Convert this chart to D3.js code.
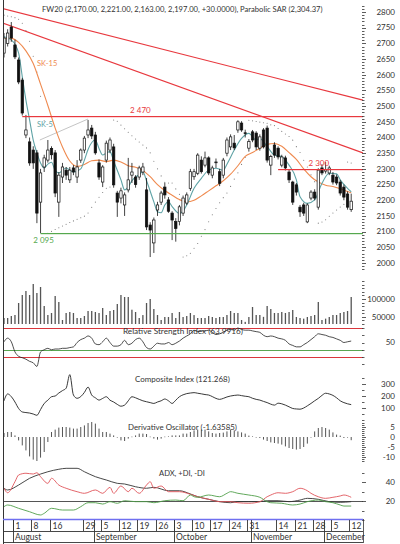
<!DOCTYPE html>
<html><head><meta charset="utf-8">
<script src="https://cdn.jsdelivr.net/npm/d3@7"></script>
<style>body{margin:0;background:#fff}svg{display:block}text{font-family:Lato,"Open Sans",sans-serif}</style>
</head><body><svg id="c" width="400" height="544"></svg>
<script>
// ---------- DATA ----------
const openP  = [2669,2700,2752,2695,2647,2583,2408,2386,2360,2351,2194,2306,2328,2365,2351,2194,2274,2296,2265,2303,2274,2328,2360,2408,2430,2408,2319,2258,2328,2360,2370,2223,2207,2185,2233,2280,2274,2274,2290,2233,2121,2064,2169,2194,2242,2201,2159,2132,2132,2159,2191,2238,2275,2286,2328,2312,2335,2280,2320,2291,2280,2350,2370,2382,2424,2446,2415,2366,2418,2414,2366,2424,2430,2312,2376,2366,2312,2335,2290,2258,2249,2178,2185,2131,2207,2226,2178,2303,2293,2287,2280,2274,2258,2242,2220,2170];
const highP  = [2733,2745,2768,2712,2655,2590,2472,2400,2372,2360,2300,2345,2392,2372,2360,2290,2319,2306,2306,2312,2328,2365,2405,2456,2440,2418,2330,2312,2390,2400,2380,2230,2240,2225,2335,2319,2280,2310,2319,2271,2130,2145,2195,2230,2255,2210,2165,2143,2185,2215,2225,2300,2300,2350,2340,2355,2340,2310,2333,2300,2335,2400,2410,2408,2455,2452,2425,2395,2424,2420,2410,2430,2438,2345,2385,2372,2345,2342,2298,2262,2255,2185,2192,2190,2232,2235,2302,2315,2322,2310,2290,2282,2265,2250,2228,2221];
const lowP   = [2655,2690,2705,2650,2570,2470,2398,2310,2300,2127,2095,2290,2320,2330,2210,2147,2255,2265,2255,2280,2255,2319,2350,2398,2395,2345,2265,2242,2320,2350,2240,2147,2190,2150,2225,2255,2240,2265,2280,2105,2019,2032,2150,2185,2205,2160,2073,2068,2120,2150,2185,2230,2265,2280,2285,2305,2280,2270,2303,2245,2270,2340,2360,2360,2415,2418,2400,2355,2385,2360,2358,2365,2320,2280,2335,2330,2305,2295,2255,2185,2215,2147,2150,2127,2200,2200,2170,2280,2285,2280,2250,2248,2215,2200,2170,2163];
const closeP = [2717,2733,2717,2657,2577,2478,2424,2319,2319,2159,2287,2335,2360,2345,2223,2280,2306,2280,2296,2290,2306,2360,2398,2424,2405,2351,2274,2306,2382,2392,2249,2194,2230,2217,2265,2290,2250,2303,2306,2115,2105,2137,2185,2223,2217,2165,2137,2110,2179,2207,2217,2291,2291,2344,2291,2335,2287,2303,2322,2254,2328,2392,2402,2367,2450,2424,2413,2387,2392,2370,2402,2370,2328,2339,2344,2338,2338,2303,2265,2194,2226,2163,2159,2185,2226,2207,2296,2287,2298,2303,2258,2255,2223,2210,2178,2197];
const volume = [46800,46800,52400,55200,88800,111200,122400,111200,142000,116800,133600,80400,55200,60800,108400,91600,41200,60800,63600,60800,46800,46800,52400,66400,66400,63600,60800,74800,55200,66400,69200,86000,111200,105600,105600,70000,63600,46800,55000,88800,100000,72000,55200,41200,49600,49600,60800,46800,63600,49600,52400,60800,55000,46800,46800,46800,52400,49600,46800,49600,49600,55200,66400,60800,60800,41200,36000,49600,77600,55200,55200,50000,80400,72000,60800,60800,63600,60800,63600,69200,49600,46800,45000,49600,52400,55200,91600,41200,45000,49600,55200,55200,60800,63600,66400,105600];
// moving averages: [day index, value]
const sk15 = [[0,2716],[2,2716],[4,2703],[6,2676],[8,2636],[10,2570],[12,2502],[14,2430],[16,2370],[18,2325],[20,2308],[22,2314],[24,2326],[26,2328],[28,2323],[30,2328],[32,2322],[34,2310],[36,2305],[38,2295],[40,2275],[42,2250],[44,2231],[46,2216],[48,2202],[50,2195],[52,2200],[54,2214],[56,2230],[58,2246],[60,2262],[62,2283],[64,2310],[66,2340],[68,2352],[70,2366],[72,2378],[74,2381],[76,2372],[78,2352],[80,2330],[82,2300],[84,2275],[86,2258],[88,2248],[90,2244],[92,2237],[94,2228],[95,2224]];
const sk5 = [[0,2721],[2,2711],[4,2669],[5,2594],[6,2519],[7,2456],[8,2392],[9,2351],[10,2319],[11,2303],[12,2315],[13,2321],[14,2295],[15,2287],[17,2303],[18,2296],[19,2290],[21,2300],[22,2328],[23,2362],[25,2392],[26,2365],[27,2344],[28,2351],[29,2355],[30,2325],[32,2265],[33,2233],[34,2243],[35,2262],[37,2282],[38,2291],[39,2262],[41,2195],[42,2163],[43,2160],[44,2185],[45,2195],[46,2180],[48,2158],[49,2165],[50,2185],[52,2238],[54,2270],[56,2296],[58,2302],[60,2296],[61,2315],[63,2360],[65,2397],[67,2413],[69,2392],[70,2397],[72,2371],[74,2344],[76,2339],[78,2312],[80,2265],[81,2211],[83,2190],[85,2201],[87,2254],[89,2286],[91,2284],[92,2265],[94,2238],[95,2227]];
const rsi = [51,56,51,37,31,29,27,24,22,17,37,40,42,40,41,41,42,42,43,44,50,54,56,59,56,48,47,51,56,50,45,45,47,53,47,49,54,56,51,43,41,45,49,48,48,50,47,49,52,56,59,62,67,65,66,66,67,64,61,62,64,67,68,67,70,68,67,67,66,65,64,60,58,59,58,56,55,53,48,46,44,44,47,50,54,58,62,61,60,58,57,55,53,50,51,52];
const composite = [160,217,195,150,96,67,62,58,50,39,87,138,165,194,200,225,245,265,378,208,181,195,230,274,208,185,166,180,194,165,150,130,115,124,160,194,185,172,160,152,145,138,150,160,175,160,138,165,194,210,220,225,228,223,218,212,208,195,180,172,180,192,200,205,208,203,198,194,181,172,166,155,145,132,124,140,135,124,110,96,92,90,100,118,138,160,180,205,223,217,205,185,160,145,135,128];
const derivOsc = [2,2.5,2.5,0.8,-1.7,-4.2,-6.7,-9.7,-11.3,-12,-10.3,-7.5,-2.5,2.5,3.7,4.7,5,5,4.7,4.2,4.2,5,5.8,7,7.5,6.7,4.2,2.5,2.5,1.7,0.8,0,-1.7,-2,-0.8,0.2,0.8,1.7,1.7,1.5,0.2,-0.8,-1.3,-0.8,0.2,0.3,0.8,0.8,0.8,1.7,1.7,2.5,3.3,3.7,3.7,3.7,2.8,2,1.7,2,2.2,2.8,3.7,3.3,2.8,2.3,1.7,0.7,0.3,0,-0.5,-1.3,-2,-2.7,-3,-3.3,-3.8,-4.7,-5.5,-6,-6.3,-6,-5,-3.3,0,2.8,4.5,5,4.5,3.7,2.3,1.2,0.7,-0.5,-0.3,-1.6];
const adx = [[0,33.4],[1,31.6],[4,36.8],[7,43.9],[10,48.4],[12,50.8],[15,53.4],[17,54.4],[20,54.4],[22,50.8],[25,45.6],[28,42.1],[31,38.6],[33,37.9],[36,35],[39,33.4],[41,34.4],[45,30.8],[48,30.8],[51,27.4],[53,24.5],[56,21.8],[59,19.3],[62,18.2],[64,19.3],[67,19.3],[70,19.3],[72,20.3],[75,20.3],[78,19.3],[81,21],[83,22.8],[86,21.8],[89,19.3],[92,18.6],[95,19.3]];
const plusDI = [[0,33.4],[1,28.7],[3,40.3],[4,47.4],[6,49.2],[8,48.4],[9,49.8],[10,45.6],[12,38.6],[13,43.9],[15,36.8],[17,33.4],[20,29.8],[22,28.1],[25,31.6],[27,28.1],[29,34.4],[30,28.1],[32,35.8],[34,29.8],[35,33.4],[37,28.1],[39,36.8],[40,40.3],[41,33.4],[43,35.8],[45,29.8],[48,29.8],[51,27.1],[53,24.5],[56,21.8],[59,19.3],[62,19.3],[64,18.2],[67,17.6],[70,19.3],[72,24.5],[73,26.3],[75,28.7],[77,28.1],[79,29.8],[81,33.4],[83,30.8],[84,28.1],[86,24.5],[88,22.8],[90,23.9],[92,25.3],[93,26.3],[95,23.9]];
const minusDI = [[0,14],[1,15.8],[4,12.3],[7,8.7],[10,5.3],[11,7],[13,12.3],[16,10.5],[19,10.5],[21,14],[23,18.2],[25,18.2],[27,16.8],[29,19.3],[31,17.6],[33,20.3],[36,19.3],[39,19.3],[41,18.2],[44,20.3],[47,21],[49,20.3],[51,26.3],[52,24.5],[53,23.9],[56,26.3],[59,24.5],[61,28.1],[62,29.8],[64,28.1],[67,26.3],[70,23.9],[72,19.3],[73,18.2],[76,17.6],[79,15.8],[81,16.8],[83,19.3],[86,21],[88,19.3],[90,18.2],[92,15.8],[93,14.7],[95,14.7]];
// trend lines: [day, price] pairs
const trendLines = [[[-1.1,2813],[98.2,2519]], [[-1.1,2768],[98.2,2351]]];
const grayLine = [[9.8,2392],[23,2459]];
const levelLines = [{v:2470, from:5, label:"2 470", color:"#e8383e"}, {v:2300, from:75, label:"2 300", color:"#e8383e"}, {v:2095, from:10, label:"2 095", color:"#55a84e"}];
const priceTicks = d3.range(2000, 2801, 50);
const volTicks = [50000, 100000];
const rsiTicks = [50], rsiLevels = [70, 30], rsiMid = 40;
const compTicks = [100, 200, 300];
const derivTicks = [5, 0, -5, -10];
const adxTicks = [20, 40];
const dayTickIdx = [3,8,13,22,27,32,37,42,47,52,57,62,67,75,80,85,90,95];
const dayTickLab = ["1","8","16","29","5","12","19","26","3","10","17","24","31","14","21","28","5","12"];
const monthIdx = [3,25,47,68,88];
const monthLab = ["August","September","October","November","December"];
const title = "FW20 (2,170.00, 2,221.00, 2,163.00, 2,197.00, +30.0000), Parabolic SAR (2,304.37)";

// ---------- SCALES ----------
const svg = d3.select("#c");
const N = closeP.length;
const x = d3.scaleLinear().domain([0, 95]).range([4, 351.2]);
const yP = d3.scaleLinear().domain([2000, 2800]).range([263, 12]);
const yV = d3.scaleLinear().domain([30000, 100000]).range([324, 299]);
const yR = d3.scaleLinear().domain([30, 70]).range([357, 328]);
const yC = d3.scaleLinear().domain([100, 300]).range([408, 384]);
const yD = d3.scaleLinear().domain([-10, 5]).range([457, 427]);
const yA = d3.scaleLinear().domain([20, 40]).range([501, 482]);
const L = 3, R = 363;
const crisp = v => Math.round(v) + 0.5;
function hline(g, y, x1, x2, color, w){ return g.append("line").attr("x1",x1).attr("x2",x2).attr("y1",crisp(y)).attr("y2",crisp(y)).style("stroke",color).style("stroke-width",w||1); }

svg.append("clipPath").attr("id","pc").append("rect").attr("x",L).attr("y",0).attr("width",R-L).attr("height",275);
const gP = svg.append("g").attr("clip-path","url(#pc)");

// parabolic SAR computed from the OHLC data
function psar(){
  const out=[]; let up=false, sar=2790, ep=lowP[0], af=0.02;
  for(let i=0;i<N;i++){
    if(i>0){
      sar = sar + af*(ep-sar);
      if(up){ sar=Math.min(sar, lowP[i-1], i>1?lowP[i-2]:lowP[i-1]);
        if(lowP[i]<sar){ up=false; sar=ep; ep=lowP[i]; af=0.02; }
        else if(highP[i]>ep){ ep=highP[i]; af=Math.min(0.2,af+0.02); }
      } else { sar=Math.max(sar, highP[i-1], i>1?highP[i-2]:highP[i-1]);
        if(highP[i]>sar){ up=true; sar=ep; ep=highP[i]; af=0.02; }
        else if(lowP[i]<ep){ ep=lowP[i]; af=Math.min(0.2,af+0.02); }
      }
    }
    out.push(sar);
  }
  return out;
}
const sar = psar();

// trend lines
trendLines.forEach(t=>gP.append("line").attr("x1",x(t[0][0])).attr("y1",yP(t[0][1])).attr("x2",x(t[1][0])).attr("y2",yP(t[1][1])).style("stroke","#e8383e").style("stroke-width",1.1));
gP.append("line").attr("x1",x(grayLine[0][0])).attr("y1",yP(grayLine[0][1])).attr("x2",x(grayLine[1][0])).attr("y2",yP(grayLine[1][1])).style("stroke","#bdbdbd").style("stroke-width",0.9);

// SAR dots
gP.selectAll(".sar").data(sar).join("circle").attr("cx",(d,i)=>x(i)).attr("cy",d=>yP(d)).attr("r",0.55).attr("fill","#777");

// moving averages
const lineP = d3.line().x(d=>x(d[0])).y(d=>yP(d[1])).curve(d3.curveMonotoneX);
gP.append("path").attr("d",lineP(sk15)).attr("fill","none").style("stroke","#ef8a4f").style("stroke-width",1.1);
gP.append("path").attr("d",lineP(sk5)).attr("fill","none").style("stroke","#5fa3a6").style("stroke-width",1.1);

// candles
const cg = gP.selectAll(".cd").data(d3.range(N)).join("g");
cg.append("line").attr("x1",i=>x(i)).attr("x2",i=>x(i)).attr("y1",i=>yP(highP[i])).attr("y2",i=>yP(lowP[i])).style("stroke","#111").style("stroke-width",0.8);
cg.append("rect").attr("x",i=>x(i)-1.2).attr("width",2.4)
  .attr("y",i=>yP(Math.max(openP[i],closeP[i])))
  .attr("height",i=>Math.max(0.8,Math.abs(yP(openP[i])-yP(closeP[i]))))
  .attr("fill",i=>closeP[i]>=openP[i]?"#fff":"#111").style("stroke","#111").style("stroke-width",0.7);

// support / resistance levels
levelLines.forEach(l=>svg.append("rect").attr("x",x(l.from)).attr("width",R-x(l.from)).attr("y",Math.round(yP(l.v))).attr("height",1.2).attr("fill",l.color));

// labels in price panel
function fit(t,w){const l=t.node().getComputedTextLength(); t.attr("font-size",parseFloat(t.attr("font-size"))*w/l);}
fit(svg.append("text").attr("x",42).attr("y",12).attr("font-size",8).attr("fill","#333").text(title),281);
svg.append("text").attr("x",37).attr("y",66).attr("font-size",7.5).attr("fill","#ef8a4f").text("SK-15");
svg.append("text").attr("x",37).attr("y",127).attr("font-size",7.5).attr("fill","#5fa3a6").text("SK-5");
svg.append("text").attr("x",x(34.5)).attr("y",yP(2470)-3).attr("font-size",8).attr("fill","#e8383e").text(levelLines[0].label);
svg.append("text").attr("x",x(83.3)).attr("y",yP(2300)-3).attr("font-size",8).attr("fill","#e8383e").text(levelLines[1].label);
svg.append("text").attr("x",x(8)).attr("y",yP(2095)+10).attr("font-size",8).attr("fill","#55a84e").text(levelLines[2].label);

// volume
svg.selectAll(".vb").data(volume).join("rect").attr("x",(d,i)=>x(i)-0.65).attr("width",1.3)
  .attr("y",d=>yV(d)).attr("height",d=>yV(30000)-yV(d)).attr("fill","#555");

// RSI
rsiLevels.forEach(v=>hline(svg, yR(v), L, R, "#d9353b", 1));
hline(svg, yR(rsiMid), L, R, "#5aa552", 1);
const lineI = sc=>d3.line().x((d,i)=>x(i)).y(d=>sc(d)).curve(d3.curveMonotoneX);
svg.append("path").attr("d",lineI(yR)(rsi)).attr("fill","none").style("stroke","#222").style("stroke-width",0.8);
fit(svg.append("text").attr("x",123).attr("y",334).attr("font-size",8).attr("fill","#333").text("Relative Strength Index (63.9916)"),120);

// Composite
svg.append("path").attr("d",lineI(yC)(composite)).attr("fill","none").style("stroke","#222").style("stroke-width",0.9);
fit(svg.append("text").attr("x",135).attr("y",382).attr("font-size",8).attr("fill","#333").text("Composite Index (121.268)"),95);

// Derivative oscillator
svg.selectAll(".db").data(derivOsc).join("rect").attr("x",(d,i)=>x(i)-0.5).attr("width",1)
  .attr("y",d=>Math.min(yD(0),yD(d))).attr("height",d=>Math.max(0.6,Math.abs(yD(d)-yD(0)))).attr("fill","#555");
fit(svg.append("text").attr("x",128).attr("y",430).attr("font-size",8).attr("fill","#333").text("Derivative Oscillator (-1.63585)"),109);

// ADX
hline(svg, yA(20), L, R, "#555", 1);
const lineA = d3.line().x(d=>x(d[0])).y(d=>yA(d[1])).curve(d3.curveMonotoneX);
svg.append("path").attr("d",lineA(adx)).attr("fill","none").style("stroke","#333").style("stroke-width",0.9);
svg.append("path").attr("d",lineA(plusDI)).attr("fill","none").style("stroke","#e0555a").style("stroke-width",0.9);
svg.append("path").attr("d",lineA(minusDI)).attr("fill","none").style("stroke","#4f9e48").style("stroke-width",0.9);
fit(svg.append("text").attr("x",159).attr("y",476).attr("font-size",8).attr("fill","#333").text("ADX, +DI, -DI"),46);

// right axes
const ra = svg.append("g");
function ticks(sc, vals, major, lab){
  vals.forEach(v=>ra.append("line").attr("x1",362).attr("x2",major.includes(v)?366:364.5).attr("y1",crisp(sc(v))).attr("y2",crisp(sc(v))).style("stroke","#333").style("stroke-width",0.8));
  lab.forEach(v=>ra.append("text").attr("x",395).attr("y",sc(v)).attr("dy","0.35em").attr("text-anchor","end").attr("font-size",8).attr("fill","#333").text(v));
}
ticks(yP, d3.range(1980,2821,10), priceTicks, priceTicks);
ticks(yV, d3.range(30000,150001,10000), volTicks, volTicks);
ticks(yR, d3.range(20,71,10), [], rsiTicks);
ticks(yC, d3.range(0,351,50), compTicks, compTicks);
ticks(yD, d3.range(-12,8,1), derivTicks, derivTicks);
ticks(yA, d3.range(0,51,10), adxTicks, adxTicks);

// frame
svg.append("line").attr("x1",L+0.5).attr("x2",L+0.5).attr("y1",0).attr("y2",544).style("stroke","#333").style("stroke-width",1);

// x axis
hline(svg, 519, L, R, "#6f6ff0", 1.3);
hline(svg, 531, L, R, "#333", 0.9);
hline(svg, 542, L, R, "#333", 0.9);
svg.append("line").attr("x1",R+0.5).attr("x2",R+0.5).attr("y1",519).attr("y2",543).style("stroke","#333").style("stroke-width",0.8);
dayTickIdx.forEach((d,k)=>{
  const xx = crisp(x(d-0.5));
  svg.append("line").attr("x1",xx).attr("x2",xx).attr("y1",520).attr("y2",531).style("stroke","#333").style("stroke-width",0.9);
  svg.append("text").attr("x",xx+2).attr("y",528.5).attr("font-size",8.5).attr("fill","#333").text(dayTickLab[k]);
});
monthIdx.forEach((d,k)=>{
  const xx = crisp(x(d-0.5));
  svg.append("line").attr("x1",xx).attr("x2",xx).attr("y1",520).attr("y2",543).style("stroke","#333").style("stroke-width",0.9);
  svg.append("text").attr("x",xx+1.5).attr("y",540).attr("font-size",8.5).attr("fill","#333").text(monthLab[k]);
});
</script></body></html>
